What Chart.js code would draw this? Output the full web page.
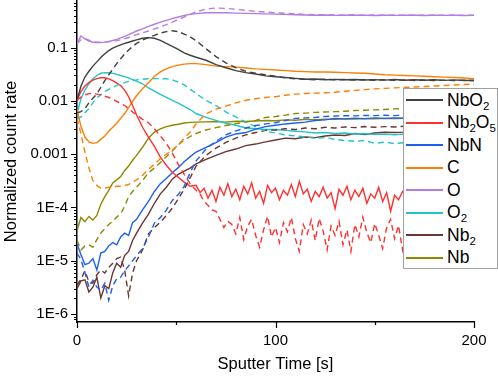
<!DOCTYPE html>
<html>
<head>
<meta charset="utf-8">
<script src="https://cdn.jsdelivr.net/npm/chart.js@4.4.1/dist/chart.umd.min.js"></script>
<style>
  html, body { margin: 0; padding: 0; background: #fff; }
  #wrap { position: relative; width: 498px; height: 376px; }
  #legend {
    position: absolute; left: 403px; top: 88px; width: 93px; height: 179px;
    border: 1px solid #a0a0a0; background: #fff; overflow: hidden;
    font-family: "Liberation Sans", Arial, sans-serif; font-size: 17.5px; color: #000;
  }
  #legend .item { display: flex; align-items: center; height: 22.5px; white-space: nowrap; }
  #legend .swatch { flex: 0 0 37px; width: 37px; height: 2px; margin: 0 4px 0 2px; }
  #legend sub { font-size: 11.5px; line-height: 0; vertical-align: -4px; }
</style>
</head>
<body>
<div id="wrap">
  <canvas id="chart" width="498" height="376"></canvas>
  <div id="legend"></div>
</div>
<script>
// sputter time grid [s]
const time = [0, 2, 4, 6, 8, 10, 12, 14, 16, 18, 20, 22, 24, 26, 28, 30,
  33, 36, 39, 42, 45, 48, 51, 54, 57,
  60, 65, 70, 75, 80, 85, 90, 95, 100, 105, 110, 115, 120, 125, 130, 135, 140, 145,
  150, 155, 160, 165, 170, 175, 180, 185, 190, 195, 200];

// finer grid for the noisy Nb2O5 tails
const tailTime = [60, 62, 64, 66, 68, 70, 72, 74, 76, 78, 80, 82, 84, 86, 88, 90, 92, 94, 96, 98,
  100, 102, 104, 106, 108, 110, 112, 114, 116, 118, 120, 122, 124, 126, 128, 130, 132, 134, 136, 138,
  140, 142, 144, 146, 148, 150, 152, 154, 156, 158, 160, 162, 164, 166, 168, 170, 172, 174, 176, 178,
  180, 182, 184, 186, 188, 190, 192, 194, 196, 198, 200];

const species = ['NbO2', 'Nb2O5', 'NbN', 'C', 'O', 'O2', 'Nb2', 'Nb'];
const seriesColors = ['#404040', '#ff3030', '#1f5ff0', '#ff8000', '#b27ee0', '#22c4c8', '#6b3535', '#8a8a00'];

// solid = first sample, dashed = second sample
const nbo2Solid = [0.0102, 0.019, 0.028, 0.036, 0.045, 0.054, 0.065, 0.077, 0.088, 0.098, 0.106, 0.113, 0.12, 0.126, 0.133, 0.14,
  0.15, 0.154, 0.15, 0.137, 0.12, 0.106, 0.093, 0.08, 0.072,
  0.066, 0.058, 0.048, 0.042, 0.037, 0.034, 0.032, 0.0295, 0.0285, 0.0275, 0.0265, 0.0255, 0.0258, 0.025, 0.0254,
  0.0249, 0.0253, 0.0247, 0.0251, 0.0246, 0.0252, 0.0245, 0.025, 0.0244, 0.0249, 0.0243, 0.0248, 0.0242, 0.0245];
const nbo2Dash = [0.006, 0.0063, 0.0072, 0.0092, 0.0112, 0.0135, 0.018, 0.024, 0.031, 0.039, 0.05, 0.062, 0.076, 0.09, 0.105, 0.12,
  0.138, 0.155, 0.17, 0.188, 0.2, 0.207, 0.2, 0.18, 0.16,
  0.135, 0.095, 0.068, 0.052, 0.042, 0.036, 0.033, 0.031, 0.029, 0.027, 0.026, 0.0255, 0.025, 0.0256, 0.0248,
  0.0252, 0.0246, 0.025, 0.0244, 0.0249, 0.0243, 0.0248, 0.0242, 0.0247, 0.0241, 0.0246, 0.024, 0.0245, 0.0239];

const nb2o5SolidHead = [0.0102, 0.015, 0.019, 0.022, 0.0245, 0.0262, 0.0272, 0.0272, 0.026, 0.0241, 0.0215, 0.0195, 0.016, 0.012, 0.0082, 0.0055,
  0.0032, 0.0021, 0.0014, 0.00088, 0.00062, 0.00046, 0.00037, 0.0003, 0.00025];
const nb2o5SolidTail = [2.6e-4, 1.9e-4, 2.3e-4, 1.5e-4, 2.1e-4, 1.3e-4, 2.4e-4, 1.7e-4, 2.8e-4, 1.6e-4,
  2.2e-4, 1.4e-4, 2.5e-4, 1.8e-4, 2.9e-4, 1.5e-4, 2.0e-4, 1.2e-4, 2.6e-4, 1.9e-4,
  2.3e-4, 1.4e-4, 2.1e-4, 1.7e-4, 2.7e-4, 1.6e-4, 3.1e-4, 1.8e-4, 2.2e-4, 1.3e-4,
  2.0e-4, 1.6e-4, 2.4e-4, 1.5e-4, 1.9e-4, 9.5e-5, 2.2e-4, 1.7e-4, 2.5e-4, 1.4e-4,
  2.1e-4, 1.6e-4, 2.3e-4, 1.2e-4, 1.8e-4, 1.5e-4, 2.4e-4, 1.3e-4, 1.9e-4, 8.5e-5,
  1.7e-4, 1.4e-4, 2.0e-4, 1.6e-4, 9e-5, 1.5e-4, 1.8e-4, 1.2e-4, 1.6e-4, 1.3e-4,
  1.9e-4, 1.1e-4, 1.5e-4, 1.7e-4, 1.2e-4, 1.6e-4, 1.3e-4, 1.8e-4, 1.4e-4, 1.5e-4,
  1.2e-4];
const nb2o5DashHead = [0.0102, 0.0118, 0.013, 0.0137, 0.0137, 0.0134, 0.013, 0.0123, 0.0116, 0.0108, 0.0098, 0.009, 0.0082, 0.0072, 0.0062, 0.0055,
  0.0045, 0.0039, 0.003, 0.0022, 0.0016, 0.00105, 0.00065, 0.00042, 0.00028];
const nb2o5DashTail = [2.1e-4, 1.8e-4, 1.3e-4, 1.1e-4, 9e-5, 8.5e-5, 6e-5, 4.2e-5, 5.5e-5, 4.8e-5,
  3.2e-5, 6.5e-5, 2.5e-5, 4.5e-5, 6e-5, 3e-5, 1.8e-5, 3.8e-5, 6.8e-5, 2.8e-5,
  4.2e-5, 2.2e-5, 5.2e-5, 3.5e-5, 6.5e-5, 2.6e-5, 1.5e-5, 4.8e-5, 3.2e-5, 5.8e-5,
  2.4e-5, 6.2e-5, 3.6e-5, 1.6e-5, 4.5e-5, 3e-5, 5.5e-5, 2e-5, 3.8e-5, 1.5e-5,
  4.8e-5, 2.8e-5, 6.6e-5, 3.4e-5, 2.2e-5, 5e-5, 3e-5, 1.7e-5, 4.2e-5, 6e-5,
  2.6e-5, 4.6e-5, 1.6e-5, 3.8e-5, 5.4e-5, 2.4e-5, 4e-5, 3e-5, 5e-5, 2e-5,
  4.4e-5, 3.2e-5, 5.6e-5, 2.6e-5, 3.8e-5, 1.8e-5, 4.6e-5, 3e-5, 5.2e-5, 2.8e-5,
  4e-5];

const nbnSolid = [2.1e-5, 1.3e-5, 8.5e-6, 9e-6, 1.1e-5, 6.7e-6, 1.4e-5, 1.5e-5, 1.9e-5, 2.2e-5, 2.0e-5, 2.8e-5, 3.3e-5, 3.0e-5, 5.2e-5, 6e-5,
  9e-5, 1.3e-4, 2.0e-4, 2.8e-4, 3.5e-4, 4.5e-4, 5.6e-4, 7.2e-4, 9e-4,
  1.1e-3, 1.35e-3, 1.65e-3, 2.1e-3, 2.4e-3, 2.55e-3, 2.95e-3, 3.3e-3, 3.5e-3, 3.7e-3, 3.85e-3, 4.0e-3, 4.3e-3, 4.4e-3, 4.7e-3,
  4.6e-3, 4.75e-3, 4.65e-3, 4.8e-3, 4.7e-3, 4.8e-3, 4.75e-3, 4.85e-3, 4.7e-3, 4.9e-3, 4.8e-3, 4.9e-3, 4.85e-3, 4.95e-3];
const nbnDash = [1.4e-5, 1.05e-5, 6e-6, 3.2e-6, 4.3e-6, 3.2e-6, 2.8e-6, 3.8e-6, 1.8e-6, 3.4e-6, 4.6e-6, 4.9e-6, 6.5e-6, 8e-6, 1.0e-5, 1.25e-5,
  1.7e-5, 2.8e-5, 5.1e-5, 6.5e-5, 8.9e-5, 1.36e-4, 1.75e-4, 2.5e-4, 4.5e-4,
  7.5e-4, 1.25e-3, 1.75e-3, 2.3e-3, 2.75e-3, 3.1e-3, 3.45e-3, 3.7e-3, 3.9e-3, 4.3e-3, 4.7e-3, 4.8e-3, 4.9e-3, 5.1e-3, 5.2e-3,
  5.3e-3, 5.25e-3, 5.35e-3, 5.3e-3, 5.4e-3, 5.3e-3, 5.4e-3, 5.35e-3, 5.45e-3, 5.4e-3, 5.5e-3, 5.4e-3, 5.5e-3, 5.45e-3];

const cSolid = [0.007, 0.0033, 0.0021, 0.0017, 0.0016, 0.00165, 0.0019, 0.0022, 0.0027, 0.0032, 0.0038, 0.0047, 0.0058, 0.0075, 0.0098, 0.0125,
  0.017, 0.022, 0.029, 0.035, 0.04, 0.044, 0.047, 0.049, 0.05,
  0.05, 0.048, 0.045, 0.044, 0.043, 0.0415, 0.04, 0.039, 0.038, 0.037, 0.036, 0.0355, 0.035, 0.0348, 0.0345,
  0.034, 0.0335, 0.033, 0.032, 0.031, 0.0305, 0.03, 0.0295, 0.029, 0.0285, 0.028, 0.0275, 0.027, 0.0262];
const cDash = [0.0048, 0.0024, 0.0011, 0.00055, 0.00032, 0.00026, 0.00023, 0.00023, 0.00024, 0.00024, 0.00025, 0.00025, 0.00026, 0.00027, 0.0003, 0.00033,
  0.0004, 0.00052, 0.00065, 0.00083, 0.001, 0.0012, 0.0015, 0.002, 0.0026,
  0.0037, 0.0057, 0.007, 0.008, 0.0092, 0.0103, 0.011, 0.0116, 0.012, 0.0128, 0.0134, 0.0138, 0.014, 0.0142, 0.0145,
  0.0152, 0.0158, 0.0163, 0.0168, 0.0172, 0.0176, 0.0179, 0.0183, 0.0186, 0.019, 0.0195, 0.0199, 0.0203, 0.0207];

const oSolid = [0.12, 0.165, 0.145, 0.132, 0.126, 0.124, 0.124, 0.127, 0.131, 0.136, 0.143, 0.152, 0.163, 0.175, 0.19, 0.205,
  0.225, 0.25, 0.275, 0.3, 0.325, 0.35, 0.375, 0.4, 0.42,
  0.435, 0.45, 0.452, 0.45, 0.445, 0.44, 0.435, 0.43, 0.425, 0.42, 0.415, 0.41, 0.405, 0.41, 0.403,
  0.407, 0.404, 0.406, 0.402, 0.405, 0.403, 0.406, 0.404, 0.402, 0.405, 0.403, 0.404, 0.402, 0.403];
const oDash = [0.118, 0.14, 0.148, 0.138, 0.13, 0.127, 0.127, 0.128, 0.129, 0.131, 0.135, 0.14, 0.147, 0.155, 0.165, 0.175,
  0.19, 0.205, 0.225, 0.245, 0.27, 0.3, 0.335, 0.375, 0.42,
  0.47, 0.53, 0.555, 0.545, 0.525, 0.5, 0.48, 0.465, 0.45, 0.44, 0.43, 0.42, 0.415, 0.41, 0.412,
  0.408, 0.41, 0.405, 0.409, 0.406, 0.41, 0.404, 0.408, 0.405, 0.407, 0.404, 0.406, 0.403, 0.405];

const o2Solid = [0.0058, 0.011, 0.016, 0.021, 0.026, 0.03, 0.033, 0.034, 0.0338, 0.0328, 0.0315, 0.03, 0.0285, 0.027, 0.0252, 0.0235,
  0.021, 0.0175, 0.0152, 0.0133, 0.0116, 0.0102, 0.0091, 0.0079, 0.0069,
  0.0058, 0.0049, 0.0043, 0.0038, 0.0035, 0.0031, 0.003, 0.0029, 0.0029, 0.0028, 0.0027, 0.00262, 0.0025, 0.00255, 0.00245,
  0.0025, 0.0024, 0.00245, 0.00236, 0.0024, 0.00232, 0.00238, 0.0023, 0.00236, 0.00228, 0.00234, 0.00226, 0.00232, 0.00225];
const o2Dash = [0.0045, 0.005, 0.006, 0.0072, 0.0092, 0.0115, 0.013, 0.015, 0.0165, 0.018, 0.0195, 0.021, 0.022, 0.0232, 0.024, 0.0248,
  0.0255, 0.026, 0.0262, 0.0262, 0.026, 0.025, 0.0225, 0.02, 0.0165,
  0.0138, 0.0102, 0.0082, 0.0062, 0.005, 0.004, 0.0033, 0.0027, 0.0025, 0.0023, 0.0022, 0.0021, 0.002, 0.00205, 0.0019,
  0.0018, 0.00175, 0.0018, 0.0016, 0.00168, 0.00158, 0.00165, 0.0016, 0.00162, 0.00155, 0.0016, 0.00152, 0.00158, 0.0015];

const nb2Solid = [3.0e-6, 4.2e-6, 4.4e-6, 2.6e-6, 3.2e-6, 4.9e-6, 2.0e-6, 3.4e-6, 3.0e-6, 5.9e-6, 9e-6, 7.6e-6, 1.25e-5, 1.5e-5, 2.4e-5, 3.3e-5,
  5.1e-5, 7.5e-5, 1.2e-4, 1.8e-4, 2.4e-4, 3.4e-4, 4.2e-4, 4.8e-4, 5.5e-4,
  6.6e-4, 8e-4, 9.5e-4, 1.12e-3, 1.25e-3, 1.45e-3, 1.55e-3, 1.7e-3, 1.85e-3, 2.0e-3, 1.95e-3, 2.1e-3, 2.05e-3, 2.2e-3, 2.3e-3,
  2.25e-3, 2.45e-3, 2.35e-3, 2.5e-3, 2.6e-3, 2.55e-3, 2.6e-3, 2.7e-3, 2.6e-3, 2.75e-3, 2.65e-3, 2.8e-3, 2.7e-3, 2.8e-3];
const nb2Dash = [3.5e-6, 4.5e-6, 6.5e-6, 4e-6, 3.8e-6, 5.5e-6, 6.7e-6, 5.9e-6, 7.5e-6, 9e-6, 1.1e-5, 1.17e-5, 6.7e-6, 2.2e-6, 5.9e-6, 1.0e-5,
  1.6e-5, 3.2e-5, 4.2e-5, 5.3e-5, 7.1e-5, 9.7e-5, 1.45e-4, 2.2e-4, 3.6e-4,
  6e-4, 9.5e-4, 1.3e-3, 1.66e-3, 2.0e-3, 2.3e-3, 2.55e-3, 2.8e-3, 2.85e-3, 3.0e-3, 2.9e-3, 3.1e-3, 3.0e-3, 3.2e-3, 3.1e-3,
  3.25e-3, 3.15e-3, 3.3e-3, 3.2e-3, 3.3e-3, 3.25e-3, 3.35e-3, 3.3e-3, 3.4e-3, 3.3e-3, 3.4e-3, 3.35e-3, 3.45e-3, 3.4e-3];

const nbSolid = [3.7e-5, 6.5e-5, 5.4e-5, 6.8e-5, 5.8e-5, 7.1e-5, 1.15e-4, 1.6e-4, 2.1e-4, 2.9e-4, 3.3e-4, 3.8e-4, 4.9e-4, 6e-4, 7.7e-4, 9.5e-4,
  1.35e-3, 2.0e-3, 2.6e-3, 3.0e-3, 3.3e-3, 3.5e-3, 3.65e-3, 3.85e-3, 3.95e-3,
  4.0e-3, 4.05e-3, 4.1e-3, 4.0e-3, 4.15e-3, 4.1e-3, 4.2e-3, 4.3e-3, 4.25e-3, 4.4e-3, 4.35e-3, 4.5e-3, 4.45e-3, 4.55e-3, 4.5e-3,
  4.6e-3, 4.55e-3, 4.65e-3, 4.6e-3, 4.7e-3, 4.65e-3, 4.7e-3, 4.75e-3, 4.7e-3, 4.8e-3, 4.75e-3, 4.8e-3, 4.85e-3, 4.8e-3];
const nbDash = [2.4e-5, 1.6e-5, 1.9e-5, 2.0e-5, 1.8e-5, 2.5e-5, 3.3e-5, 4.0e-5, 4.8e-5, 5.5e-5, 6.6e-5, 7.6e-5, 1.05e-4, 1.6e-4, 2.0e-4, 2.4e-4,
  3.2e-4, 4.5e-4, 5.5e-4, 7e-4, 9e-4, 1.15e-3, 1.5e-3, 1.85e-3, 2.15e-3,
  2.45e-3, 2.85e-3, 3.15e-3, 3.45e-3, 3.75e-3, 4.0e-3, 4.3e-3, 4.9e-3, 5.1e-3, 5.4e-3, 5.8e-3, 5.9e-3, 6.1e-3, 6.2e-3, 6.3e-3,
  6.4e-3, 6.6e-3, 6.7e-3, 6.8e-3, 6.9e-3, 7.1e-3, 7.2e-3, 7.3e-3, 7.5e-3, 7.6e-3, 7.8e-3, 7.9e-3, 8.0e-3, 8.2e-3];

// axis ticks
const yMajorTicks = [1e-6, 1e-5, 1e-4, 1e-3, 1e-2, 1e-1];
const yMajorLabels = ['1E-6', '1E-5', '1E-4', '0.001', '0.01', '0.1'];
const xTicks = [0, 50, 100, 150, 200];
const xMajorTicks = [0, 100, 200];

const pts = (ts, vs) => ts.map((t, i) => ({ x: t, y: vs[i] }));
const headTime = time.slice(0, nb2o5SolidHead.length);

const solidData = [
  pts(time, nbo2Solid),
  pts(headTime, nb2o5SolidHead).concat(pts(tailTime, nb2o5SolidTail)),
  pts(time, nbnSolid),
  pts(time, cSolid),
  pts(time, oSolid),
  pts(time, o2Solid),
  pts(time, nb2Solid),
  pts(time, nbSolid),
];
const dashData = [
  pts(time, nbo2Dash),
  pts(headTime, nb2o5DashHead).concat(pts(tailTime, nb2o5DashTail)),
  pts(time, nbnDash),
  pts(time, cDash),
  pts(time, oDash),
  pts(time, o2Dash),
  pts(time, nb2Dash),
  pts(time, nbDash),
];

const datasets = [];
species.forEach((name, i) => {
  datasets.push({ label: name + ' (2)', data: dashData[i], borderColor: seriesColors[i], borderDash: [6, 4], inLegend: false });
});
species.forEach((name, i) => {
  datasets.push({ label: name, data: solidData[i], borderColor: seriesColors[i], inLegend: true });
});

const isMajorY = v => yMajorTicks.some(m => Math.abs(Math.log10(v) - Math.log10(m)) < 1e-6);

// outward tick marks, long for labelled ticks and short for minor ones
const axisTicks = {
  id: 'axisTicks',
  afterDraw(chart) {
    const { ctx, chartArea, scales: { x, y } } = chart;
    ctx.save();
    ctx.strokeStyle = '#000';
    ctx.lineWidth = 1.2;
    ctx.beginPath();
    y.ticks.forEach(t => {
      const py = Math.round(y.getPixelForValue(t.value)) + 0.5;
      const len = isMajorY(t.value) ? 6 : 3;
      ctx.moveTo(chartArea.left - len, py);
      ctx.lineTo(chartArea.left, py);
    });
    xTicks.forEach(v => {
      const px = Math.round(x.getPixelForValue(v)) + 0.5;
      const len = xMajorTicks.includes(v) ? 6 : 3;
      ctx.moveTo(px, chartArea.bottom);
      ctx.lineTo(px, chartArea.bottom + len);
    });
    ctx.stroke();
    ctx.restore();
  }
};

// legend as html so the subscripts are real text
const htmlLegend = {
  id: 'htmlLegend',
  afterUpdate(chart) {
    const box = document.getElementById('legend');
    box.innerHTML = '';
    chart.data.datasets.filter(ds => ds.inLegend).forEach(ds => {
      const item = document.createElement('div');
      item.className = 'item';
      const swatch = document.createElement('span');
      swatch.className = 'swatch';
      swatch.style.backgroundColor = ds.borderColor;
      const text = document.createElement('span');
      text.innerHTML = ds.label.replace(/(\d)/g, '<sub>$1</sub>');
      item.appendChild(swatch);
      item.appendChild(text);
      box.appendChild(item);
    });
  }
};

Chart.defaults.font.family = '"Liberation Sans", Arial, sans-serif';
Chart.defaults.color = '#000';

new Chart(document.getElementById('chart'), {
  type: 'line',
  data: { datasets },
  options: {
    responsive: false,
    animation: false,
    layout: { padding: { top: 1, right: 24, left: 0, bottom: 0 } },
    elements: {
      point: { radius: 0 },
      line: { borderWidth: 1.4, tension: 0 }
    },
    plugins: {
      legend: { display: false },
      tooltip: { enabled: false }
    },
    scales: {
      x: {
        type: 'linear',
        min: 0,
        max: 200,
        afterBuildTicks: scale => { scale.ticks = xTicks.map(v => ({ value: v })); },
        afterFit: scale => { scale.height = 54; scale.paddingLeft = 0; scale.paddingRight = 0; },
        grid: { display: true, drawOnChartArea: false, drawTicks: true, tickLength: 6, color: 'rgba(0,0,0,0)' },
        border: { display: true, color: '#000', width: 1.5 },
        ticks: {
          padding: 4,
          maxRotation: 0,
          autoSkip: false,
          font: { size: 15 },
          callback: v => (xMajorTicks.includes(v) ? String(v) : '')
        },
        title: { display: true, text: 'Sputter Time [s]', font: { size: 16.5 }, padding: { top: 0, bottom: 2 } }
      },
      y: {
        type: 'logarithmic',
        min: 7.1e-7,
        max: 0.75,
        afterBuildTicks: scale => {
          const ticks = [];
          [1e-7, 1e-6, 1e-5, 1e-4, 1e-3, 1e-2, 1e-1].forEach(d => {
            for (let k = 1; k < 10; k++) {
              const v = d * k;
              if (v >= 7.1e-7 && v <= 0.75) ticks.push({ value: v });
            }
          });
          scale.ticks = ticks;
        },
        afterFit: scale => { scale.width = 77; scale.paddingTop = 0; scale.paddingBottom = 0; },
        grid: { display: true, drawOnChartArea: false, drawTicks: true, tickLength: 6, color: 'rgba(0,0,0,0)' },
        border: { display: true, color: '#000', width: 1.5 },
        ticks: {
          padding: 3,
          autoSkip: false,
          font: { size: 15 },
          callback: v => {
            const i = yMajorTicks.findIndex(m => Math.abs(Math.log10(v) - Math.log10(m)) < 1e-6);
            return i >= 0 ? yMajorLabels[i] : '';
          }
        },
        title: { display: true, text: 'Normalized count rate', font: { size: 16.5 }, padding: { top: 2, bottom: 0 } }
      }
    }
  },
  plugins: [axisTicks, htmlLegend]
});
</script>
</body>
</html>
